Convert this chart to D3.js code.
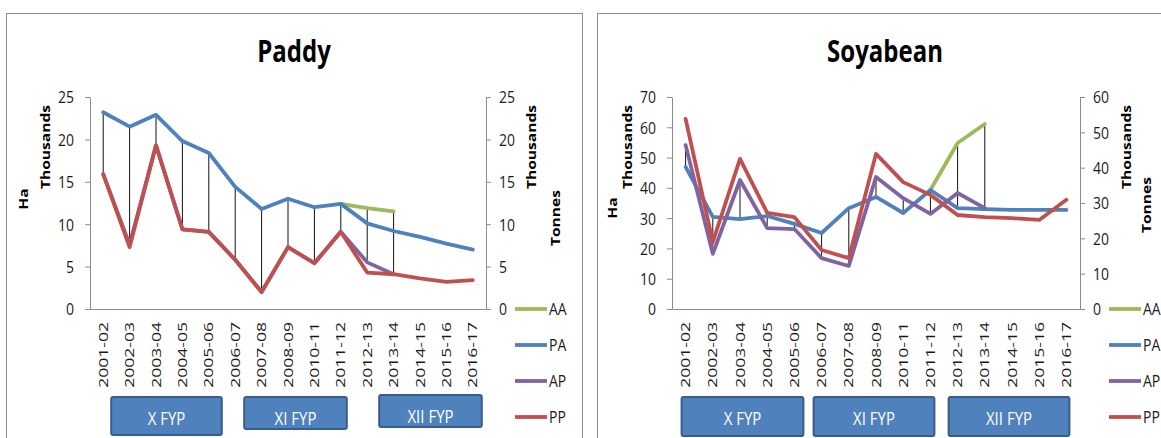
<!DOCTYPE html>
<html><head><meta charset="utf-8">
<script src="https://cdn.jsdelivr.net/npm/d3@7"></script>
<style>body{margin:0;background:#fff}svg{display:block}text{font-family:'Open Sans',sans-serif}</style>
</head><body><svg id="c" width="1161" height="438"></svg>
<script>
// ---------- DATA ----------
const categories = ["2001-02","2002-03","2003-04","2004-05","2005-06","2006-07","2007-08","2008-09","2010-11","2011-12","2012-13","2013-14","2014-15","2015-16","2016-17"];
const seriesNames = ["AA","PA","AP","PP"];

// Paddy (thousands)
const paddyAA = [null,null,null,null,null,null,null,null,null,12.4,11.9,11.5,null,null,null];
const paddyPA = [23.2,21.5,22.9,19.8,18.4,14.4,11.8,13.0,12.0,12.4,10.1,9.2,8.5,7.7,7.0];
const paddyAP = [15.9,7.6,19.3,9.4,9.1,5.8,2.0,7.3,5.4,9.1,5.5,4.1,null,null,null];
const paddyPP = [15.9,7.3,19.3,9.4,9.1,5.8,2.0,7.3,5.4,9.1,4.3,4.1,3.6,3.2,3.4];
const paddyLeftTicks = [0,5,10,15,20,25];
const paddyRightTicks = [0,5,10,15,20,25];

// Soyabean (thousands) - AA, PA, AP on left axis (Ha), PP on right axis (Tonnes)
const soyAA = [null,null,null,null,null,null,null,null,null,39.3,54.8,61.1,null,null,null];
const soyPA = [46.9,30.4,29.7,30.7,28.1,25.1,33.3,37.0,31.7,39.3,33.3,33.0,32.7,32.7,32.7];
const soyAP = [54.1,18.2,42.6,26.7,26.4,16.8,14.2,43.6,36.6,31.4,38.3,33.3,null,null,null];
const soyPP = [53.8,19.0,42.5,27.2,26.0,16.7,14.4,43.9,35.9,32.3,26.6,26.0,25.7,25.2,30.9];
const soyLeftTicks = [0,10,20,30,40,50,60,70];
const soyRightTicks = [0,10,20,30,40,50,60];

const fypLabels = ["X FYP","XI FYP","XII FYP"];
const fypStart = ["2001-02","2006-07","2012-13"];
const fypEnd = ["2005-06","2011-12","2016-17"];

// ---------- STYLE ----------
const colors = {AA:"#9BBB59", PA:"#4F81BD", AP:"#8064A2", PP:"#C0504D"};
const svg = d3.select("#c");
const Y_TOP = 97, Y_BOT = 309;

function drawChart(cfg) {
  const g = svg.append("g");
  g.append("rect").attr("x", cfg.frameX).attr("y", 13.5).attr("width", cfg.frameW).attr("height", 440)
    .attr("fill", "#fff").attr("stroke", "#8c8c8c").attr("stroke-width", 1);

  const x = d3.scaleBand().domain(categories).range([cfg.x0, cfg.x1]);
  const cx = c => x(c) + x.bandwidth() / 2;
  const yL = d3.scaleLinear().domain([0, d3.max(cfg.leftTicks)]).range([Y_BOT, Y_TOP]);
  const yR = d3.scaleLinear().domain([0, d3.max(cfg.rightTicks)]).range([Y_BOT, Y_TOP]);

  // title
  g.append("text").attr("transform", `translate(${cfg.titleX},62) scale(1,1.3)`)
    .attr("text-anchor", "middle").attr("font-weight", 700).attr("font-size", 24).attr("fill", "#000")
    .text(cfg.title);

  // left axis
  const aL = g.append("g").attr("transform", `translate(${cfg.x0},0)`)
    .call(d3.axisLeft(yL).tickValues(cfg.leftTicks).tickSize(5).tickSizeOuter(0).tickPadding(11));
  // right axis
  const aR = g.append("g").attr("transform", `translate(${cfg.x1},0)`)
    .call(d3.axisRight(yR).tickValues(cfg.rightTicks).tickSize(5).tickSizeOuter(0).tickPadding(8));
  [aL, aR].forEach(a => {
    a.select(".domain").attr("stroke", "#8c8c8c");
    a.selectAll(".tick line").attr("stroke", "#8c8c8c");
    a.selectAll(".tick text").attr("font-size", 14).attr("fill", "#1a1a1a").attr("font-family", "'Open Sans',sans-serif")
      .attr("dy", "0.36em")
      .attr("transform", "scale(1,1.17)");
  });
  // bottom axis
  const aB = g.append("g").attr("transform", `translate(0,${Y_BOT})`)
    .call(d3.axisBottom(x).tickSize(0).tickSizeOuter(0));
  aB.select(".domain").attr("stroke", "#8c8c8c");
  aB.selectAll(".tick text").attr("font-size", 13).attr("fill", "#1a1a1a").attr("font-family", "'Open Sans',sans-serif")
    .attr("x", 0).attr("y", 0).attr("dy", "0.36em").attr("text-anchor", "end")
    .attr("transform", "translate(0,13) rotate(-90) scale(1.35,1)");

  // axis titles
  const axTitle = (t, px, py) => g.append("text")
    .attr("transform", `translate(${px},${py}) rotate(-90) scale(1.2,1)`)
    .attr("text-anchor", "middle").attr("dy", "0.36em").attr("font-weight", 700).attr("font-size", 13)
    .attr("fill", "#000").text(t);
  axTitle("Ha", cfg.haX, cfg.haY);
  axTitle("Thousands", cfg.thLX, 147);
  axTitle("Thousands", cfg.thRX, 147);
  axTitle("Tonnes", cfg.tonX, cfg.tonY);

  // high-low lines (primary group: AA, PA, AP)
  categories.forEach((c, i) => {
    const vals = cfg.hilo.map(s => s[i]).filter(v => v != null);
    if (vals.length < 2) return;
    g.append("line").attr("x1", cx(c)).attr("x2", cx(c))
      .attr("y1", yL(d3.max(vals))).attr("y2", yL(d3.min(vals)))
      .attr("stroke", "#111").attr("stroke-width", 1);
  });

  // series
  cfg.series.forEach(s => {
    const sc = s.axis === "R" ? yR : yL;
    const line = d3.line().defined(d => d != null).x((d, i) => cx(categories[i])).y(d => sc(d));
    g.append("path").attr("d", line(s.values)).attr("fill", "none")
      .attr("stroke", colors[s.name]).attr("stroke-width", 3.8)
      .attr("stroke-linejoin", "round").attr("stroke-linecap", "round");
  });

  // legend
  seriesNames.forEach((n, i) => {
    const ly = 309 + i * 36;
    g.append("line").attr("x1", cfg.legX).attr("x2", cfg.legX + 32).attr("y1", ly).attr("y2", ly)
      .attr("stroke", colors[n]).attr("stroke-width", 3.8);
    g.append("text").attr("transform", `translate(${cfg.legX + 34},${ly}) scale(1,1.17)`)
      .attr("dy", "0.36em").attr("font-size", 14).attr("fill", "#1a1a1a").text(n);
  });

  // FYP boxes
  fypLabels.forEach((lab, i) => {
    const b = cfg.fyp[i];
    const bx0 = cx(fypStart[i]) + b[0], bx1 = cx(fypEnd[i]) + b[1];
    g.append("rect").attr("x", bx0).attr("y", b[2]).attr("width", bx1 - bx0).attr("height", b[3] - b[2])
      .attr("rx", 2).attr("fill", "#4F81BD").attr("stroke", "#385D8A").attr("stroke-width", 2);
    g.append("text").attr("transform", `translate(${(bx0 + bx1) / 2},${b[2] + 28}) scale(1,1.15)`)
      .attr("text-anchor", "middle").attr("font-size", 15).attr("fill", "#fff").text(lab);
  });
}

drawChart({
  title: "Paddy", titleX: 294, frameX: 6.5, frameW: 576,
  x0: 90, x1: 486, leftTicks: paddyLeftTicks, rightTicks: paddyRightTicks,
  haX: 23, haY: 199, thLX: 45, thRX: 531, tonX: 555, tonY: 218, legX: 515,
  hilo: [paddyAA, paddyPA, paddyAP],
  series: [
    {name: "AA", values: paddyAA, axis: "L"},
    {name: "PA", values: paddyPA, axis: "L"},
    {name: "AP", values: paddyAP, axis: "L"},
    {name: "PP", values: paddyPP, axis: "R"}
  ],
  fyp: [[8, 13, 397, 435], [9, 6, 397, 429], [12, 9, 395, 427]]
});

drawChart({
  title: "Soyabean", titleX: 885, frameX: 597.5, frameW: 600,
  x0: 672, x1: 1080, leftTicks: soyLeftTicks, rightTicks: soyRightTicks,
  haX: 612, haY: 208, thLX: 627, thRX: 1126, tonX: 1146, tonY: 205, legX: 1109,
  hilo: [soyAA, soyPA, soyAP],
  series: [
    {name: "AA", values: soyAA, axis: "L"},
    {name: "PA", values: soyPA, axis: "L"},
    {name: "AP", values: soyAP, axis: "L"},
    {name: "PP", values: soyPP, axis: "R"}
  ],
  fyp: [[-4, 9, 397, 436], [-8, 4, 397, 436], [-9, 3, 397, 436]]
});
</script></body></html>
